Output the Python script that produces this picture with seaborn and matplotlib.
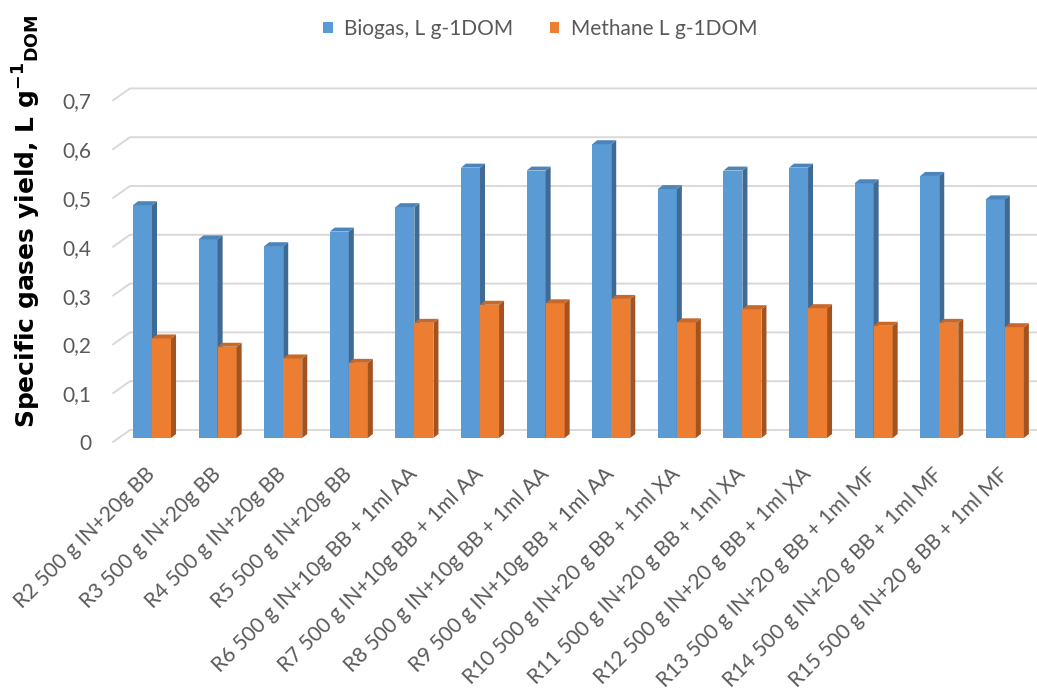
import matplotlib
matplotlib.use("Agg")
import numpy as np
import pandas as pd
import matplotlib.pyplot as plt
import seaborn as sns
from matplotlib.patches import Polygon, Patch
from matplotlib.lines import Line2D
from matplotlib.transforms import ScaledTranslation

# ---- data -------------------------------------------------------------
reactors = [
    "R2 500 g IN+20g BB",
    "R3 500 g IN+20g BB",
    "R4 500 g IN+20g BB",
    "R5 500 g IN+20g BB",
    "R6 500 g IN+10g BB + 1ml AA",
    "R7 500 g IN+10g BB + 1ml AA",
    "R8 500 g IN+10g BB + 1ml AA",
    "R9 500 g IN+10g BB + 1ml AA",
    "R10 500 g IN+20 g BB + 1ml XA",
    "R11 500 g IN+20 g BB + 1ml XA",
    "R12 500 g IN+20 g BB + 1ml XA",
    "R13 500 g IN+20 g BB + 1ml MF",
    "R14 500 g IN+20 g BB + 1ml MF",
    "R15 500 g IN+20 g BB + 1ml MF",
]
biogas = [0.477, 0.407, 0.393, 0.423, 0.473, 0.554, 0.548, 0.602,
          0.510, 0.548, 0.554, 0.522, 0.537, 0.489]
methane = [0.204, 0.187, 0.163, 0.154, 0.236, 0.273, 0.276, 0.285,
           0.237, 0.264, 0.266, 0.230, 0.236, 0.227]
series_names = ["Biogas, L g-1DOM", "Methane L g-1DOM"]
yticks = [0.0, 0.1, 0.2, 0.3, 0.4, 0.5, 0.6, 0.7]
ytick_labels = ["0", "0,1", "0,2", "0,3", "0,4", "0,5", "0,6", "0,7"]

# ---- style ------------------------------------------------------------
front_colors = ["#5B9BD5", "#ED7D31"]
side_colors = ["#3E6A93", "#A2531F"]
top_colors = ["#4C84BC", "#C8692A"]
grid_color = "#D9D9D9"
text_color = "#595959"

sns.set_style("white")
plt.rcParams["font.family"] = ["Lato", "DejaVu Sans"]
plt.rcParams["mathtext.fontset"] = "custom"
plt.rcParams["mathtext.rm"] = "DejaVu Sans:bold"
plt.rcParams["mathtext.bf"] = "DejaVu Sans:bold"

W, H, DPI = 1037, 691, 100
fig = plt.figure(figsize=(W / DPI, H / DPI), dpi=DPI)
fig.patch.set_facecolor("white")

# axes = plane of the bar front faces (pixel geometry)
ax_left, ax_right, y0_px, y7_px = 121, 1028, 438, 96.4
ax = fig.add_axes([ax_left / W, (H - y0_px) / H,
                   (ax_right - ax_left) / W, (y0_px - y7_px) / H])
ax.set_facecolor("none")

df = pd.DataFrame({
    "reactor": reactors * 2,
    "value": biogas + methane,
    "series": [series_names[0]] * len(reactors) + [series_names[1]] * len(reactors),
})

sns.barplot(data=df, x="reactor", y="value", hue="series",
            hue_order=series_names, palette=front_colors, saturation=1,
            width=0.58, gap=0, linewidth=0, legend=False, ax=ax)

ax.set_xlim(-0.4726, 13.353)
ax.set_ylim(0, 0.7)
for s in ax.spines.values():
    s.set_visible(False)
ax.set_xlabel("")
ax.set_ylabel("")


def shifted(x, y, dx, dy):
    """Data point moved by (dx, dy) display pixels, returned in data coords."""
    px = ax.transData.transform((x, y))
    return ax.transData.inverted().transform((px[0] + dx, px[1] + dy))


# back-wall gridlines with the slanted left floor edge
back_dx, back_dy = 9, 8
front_dx, front_dy = -8, -4
x_lo, x_hi = ax.get_xlim()
for v in yticks:
    a = shifted(x_lo, v, front_dx, front_dy)
    b = shifted(x_lo, v, back_dx, back_dy)
    c = shifted(x_hi, v, back_dx, back_dy)
    ax.add_line(Line2D([a[0], b[0], c[0]], [a[1], b[1], c[1]],
                       color=grid_color, lw=1.4, zorder=0.5,
                       clip_on=False, solid_joinstyle="miter"))

# give each bar its side and top faces
depth_dx, depth_dy = 5, 4
n = len(reactors)
for i, bar in enumerate(ax.patches):
    k = i // n
    bar.set_zorder(2 + k)
    x0, x1 = bar.get_x(), bar.get_x() + bar.get_width()
    h = bar.get_height()
    side = [(x1, 0), (x1, h), shifted(x1, h, depth_dx, depth_dy),
            shifted(x1, 0, depth_dx, depth_dy)]
    top = [(x0, h), (x1, h), shifted(x1, h, depth_dx, depth_dy),
           shifted(x0, h, depth_dx, depth_dy)]
    ax.add_patch(Polygon(side, closed=True, facecolor=side_colors[k],
                         edgecolor="none", zorder=2 + k + 0.1, clip_on=False))
    ax.add_patch(Polygon(top, closed=True, facecolor=top_colors[k],
                         edgecolor="none", zorder=2 + k + 0.1, clip_on=False))

# ticks
ax.set_yticks(yticks, ytick_labels)
ax.tick_params(axis="y", length=0, pad=21, labelsize=15, labelcolor=text_color)
for lab in ax.get_yticklabels():
    lab.set_transform(lab.get_transform() +
                      ScaledTranslation(0, -4 / DPI, fig.dpi_scale_trans))

ax.set_xticks(range(n), reactors)
ax.tick_params(axis="x", length=0, pad=24, labelsize=15, labelcolor=text_color)
for lab in ax.get_xticklabels():
    lab.set_rotation(45)
    lab.set_rotation_mode("anchor")
    lab.set_ha("right")
    lab.set_va("center")

# y axis title
fig.text(27 / W, 1 - 221 / H,
         r"Specific gases yield, L g$^{\mathbf{-1}}{}_{\mathbf{DOM}}$",
         rotation=90, ha="center", va="center", fontsize=18,
         fontweight="bold", family="DejaVu Sans", color="black")

# legend
handles = [Patch(facecolor=c, edgecolor="none") for c in front_colors]
fig.legend(handles, series_names, loc="center", bbox_to_anchor=(0.521, 0.958),
           ncol=2, frameon=False, fontsize=15, handlelength=0.45,
           handleheight=0.45, handletextpad=0.55, columnspacing=1.75,
           labelcolor=text_color)

fig.savefig("out.png", dpi=DPI, facecolor="white")
